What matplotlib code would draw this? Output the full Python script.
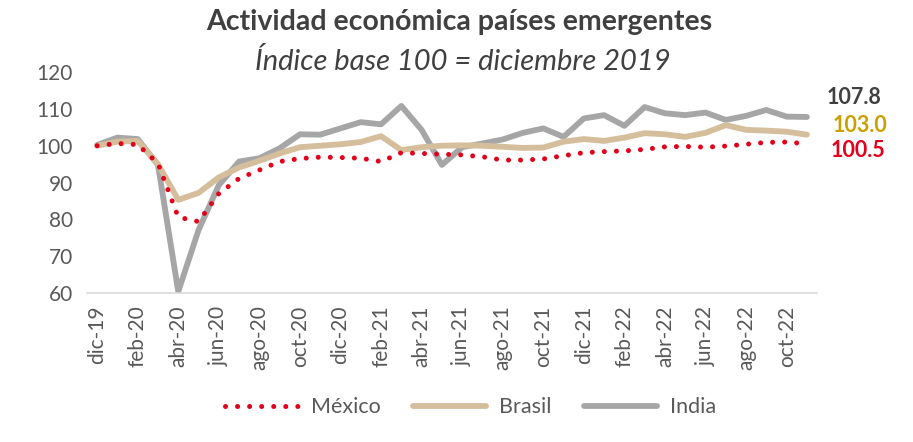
import matplotlib.pyplot as plt
import numpy as np

plt.rcParams["font.family"] = ["Lato", "DejaVu Sans"]

meses = ["dic-19", "ene-20", "feb-20", "mar-20", "abr-20", "may-20", "jun-20", "jul-20",
         "ago-20", "sep-20", "oct-20", "nov-20", "dic-20", "ene-21", "feb-21", "mar-21",
         "abr-21", "may-21", "jun-21", "jul-21", "ago-21", "sep-21", "oct-21", "nov-21",
         "dic-21", "ene-22", "feb-22", "mar-22", "abr-22", "may-22", "jun-22", "jul-22",
         "ago-22", "sep-22", "oct-22", "nov-22"]

mexico = [100.0, 100.6, 100.3, 95.2, 80.6, 79.4, 87.0, 91.1, 93.4, 95.7, 96.5, 96.9,
          96.8, 96.6, 95.7, 98.1, 97.9, 97.7, 97.5, 97.0, 96.1, 96.1, 96.4, 97.3,
          98.1, 98.4, 98.6, 99.0, 99.7, 99.8, 99.6, 99.9, 100.4, 100.9, 101.0, 100.5]

brasil = [100.0, 101.1, 101.3, 95.0, 85.3, 87.2, 91.4, 94.1, 95.9, 97.9, 99.6, 100.0,
          100.4, 101.0, 102.6, 98.8, 99.6, 100.0, 100.1, 100.0, 99.7, 99.4, 99.5, 101.1,
          101.8, 101.3, 102.2, 103.4, 103.1, 102.4, 103.5, 105.6, 104.3, 104.1, 103.8, 103.0]

india = [100.2, 102.2, 101.8, 94.8, 60.4, 77.1, 89.3, 95.7, 96.6, 99.3, 103.1, 103.0,
         104.7, 106.4, 105.8, 110.8, 104.3, 94.8, 99.6, 100.6, 101.7, 103.5, 104.7, 102.4,
         107.4, 108.3, 105.4, 110.5, 108.8, 108.3, 109.0, 107.0, 108.1, 109.7, 107.9, 107.8]

c_mex = "#E2001A"
c_bra = "#D5BE9C"
c_ind = "#A6A6A6"

x = np.arange(len(meses))

fig = plt.figure(figsize=(9.13, 4.42), dpi=100)
ax = fig.add_axes([0.0953, 0.337, 0.7996, 0.500])

ax.plot(x, india, color=c_ind, lw=4.2, solid_capstyle="round", label="India", zorder=2)
ax.plot(x, brasil, color=c_bra, lw=4.2, solid_capstyle="round", label="Brasil", zorder=3)
ax.plot(x, mexico, color=c_mex, lw=3.6, linestyle=(0, (0.01, 2.4)),
        dash_capstyle="round", label="México", zorder=4)

ax.set_xlim(-0.5, len(meses) - 0.5)
ax.set_ylim(60, 120)
ax.set_yticks(np.arange(60, 121, 10))
ax.set_xticks(x[::2])
ax.set_xticklabels(meses[::2], rotation=90)
ax.tick_params(axis="both", length=0, labelsize=15, colors="#595959")
ax.tick_params(axis="x", pad=9)
ax.tick_params(axis="y", pad=10)

for s in ["top", "right", "left"]:
    ax.spines[s].set_visible(False)
ax.spines["bottom"].set_color("#D9D9D9")
ax.spines["bottom"].set_linewidth(1.2)

# etiquetas con el ultimo valor
ax.text(1.013, 0.887, f"{india[-1]:.1f}", transform=ax.transAxes, fontsize=15.5,
        fontweight="bold", color="#404040", va="center")
ax.text(1.022, 0.756, f"{brasil[-1]:.1f}", transform=ax.transAxes, fontsize=15.5,
        fontweight="bold", color="#C9A000", va="center")
ax.text(1.019, 0.643, f"{mexico[-1]:.1f}", transform=ax.transAxes, fontsize=15.5,
        fontweight="bold", color=c_mex, va="center")

fig.text(0.503, 0.95, "Actividad económica países emergentes", ha="center", va="center",
         fontsize=20.5, fontweight="bold", color="#404040")
fig.text(0.507, 0.86, "Índice base 100 = diciembre 2019", ha="center", va="center",
         fontsize=21, style="italic", color="#404040")

h, l = ax.get_legend_handles_labels()
order = [2, 1, 0]
fig.legend([h[i] for i in order], [l[i] for i in order], loc="center",
           bbox_to_anchor=(0.515, 0.079), ncol=3, frameon=False, fontsize=15.5,
           labelcolor="#595959", handlelength=3.4, columnspacing=1.5, handletextpad=0.6)

fig.savefig("out.png", dpi=100)
